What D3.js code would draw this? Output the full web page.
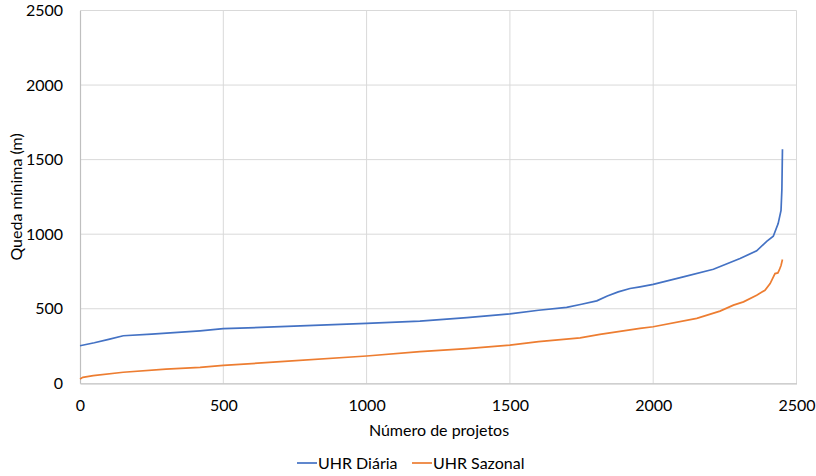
<!DOCTYPE html>
<html><head><meta charset="utf-8">
<script src="https://cdn.jsdelivr.net/npm/d3@7"></script>
<style>body{margin:0;background:#fff}svg{display:block}</style>
</head><body><div id="chart"></div>
<script>
const diariaX = [0, 50, 100, 151, 250, 419, 500, 700, 1000, 1186, 1350, 1500, 1600, 1698, 1750, 1803, 1840, 1878, 1919, 1954, 2000, 2105, 2210, 2303, 2361, 2396, 2419, 2436, 2446, 2449, 2451];
const diariaY = [252, 272, 295, 319, 330, 352, 366, 380, 402, 417, 440, 466, 490, 509, 530, 553, 585, 613, 636, 647, 663, 714, 765, 837, 888, 952, 986, 1071, 1160, 1300, 1570];
const sazonalX = [0, 10, 46, 151, 300, 419, 500, 700, 1000, 1186, 1350, 1500, 1600, 1745, 1814, 1954, 2000, 2152, 2233, 2280, 2315, 2361, 2390, 2408, 2425, 2435, 2440, 2446, 2451];
const sazonalY = [29, 40, 51, 74, 95, 107, 120, 145, 183, 212, 232, 256, 280, 305, 328, 368, 379, 435, 484, 524, 546, 591, 624, 669, 736, 740, 760, 790, 830];
const xTicks = [0, 500, 1000, 1500, 2000, 2500];
const yTicks = [0, 500, 1000, 1500, 2000, 2500];
const seriesNames = ["UHR Diária", "UHR Sazonal"];
const colors = ["#4472C4", "#ED7D31"];

const W = 816, H = 476;
const m = {l: 80, r: 19.5, t: 10.5, b: 92.7};
const svg = d3.select("#chart").append("svg").attr("width", W).attr("height", H);
const font = "Lato, 'Open Sans', sans-serif";
const fs = 16;
const x = d3.scaleLinear().domain([0, 2500]).range([m.l, W - m.r]);
const y = d3.scaleLinear().domain([0, 2500]).range([H - m.b, m.t]);

// gridlines
svg.append("g").selectAll("line").data(yTicks.filter(d => d > 0)).join("line")
  .attr("x1", m.l).attr("x2", W - m.r).attr("y1", d => y(d)).attr("y2", d => y(d))
  .attr("stroke", "#d9d9d9").attr("stroke-width", 1);
svg.append("g").selectAll("line").data(xTicks.filter(d => d > 0)).join("line")
  .attr("y1", m.t).attr("y2", H - m.b).attr("x1", d => x(d)).attr("x2", d => x(d))
  .attr("stroke", "#d9d9d9").attr("stroke-width", 1);

// axes
const xa = svg.append("g").attr("transform", `translate(0,${H - m.b})`)
  .call(d3.axisBottom(x).tickValues(xTicks).tickSize(0).tickPadding(16).tickFormat(d3.format("d")));
const ya = svg.append("g").attr("transform", `translate(${m.l},0)`)
  .call(d3.axisLeft(y).tickValues(yTicks).tickSize(0).tickPadding(17).tickFormat(d3.format("d")));
[xa, ya].forEach(a => {
  a.select(".domain").attr("stroke", "#bfbfbf").attr("stroke-width", 1.2);
  a.selectAll("text").attr("font-family", font).attr("font-size", fs).attr("fill", "#000");
});

// lines
const line = d3.line().x(d => x(d[0])).y(d => y(d[1]));
const data = [d3.zip(diariaX, diariaY), d3.zip(sazonalX, sazonalY)];
svg.append("g").selectAll("path").data(data).join("path")
  .attr("d", line).attr("fill", "none")
  .attr("stroke", (d, i) => colors[i]).attr("stroke-width", 1.7);

// axis titles
svg.append("text").attr("x", 439).attr("y", 436)
  .attr("text-anchor", "middle").attr("font-family", font).attr("font-size", fs)
  .text("Número de projetos");
svg.append("text").attr("transform", `translate(22,${(m.t + H - m.b) / 2}) rotate(-90)`)
  .attr("text-anchor", "middle").attr("font-family", font).attr("font-size", fs)
  .text("Queda mínima (m)");

// legend
const lg = svg.append("g");
const legendX = [297, 412];
seriesNames.forEach((n, i) => {
  lg.append("line").attr("x1", legendX[i]).attr("x2", legendX[i] + 20)
    .attr("y1", 463).attr("y2", 463).attr("stroke", colors[i]).attr("stroke-width", 1.7);
  lg.append("text").attr("x", legendX[i] + 21).attr("y", 468.5)
    .attr("font-family", font).attr("font-size", fs).text(n);
});
</script></body></html>
